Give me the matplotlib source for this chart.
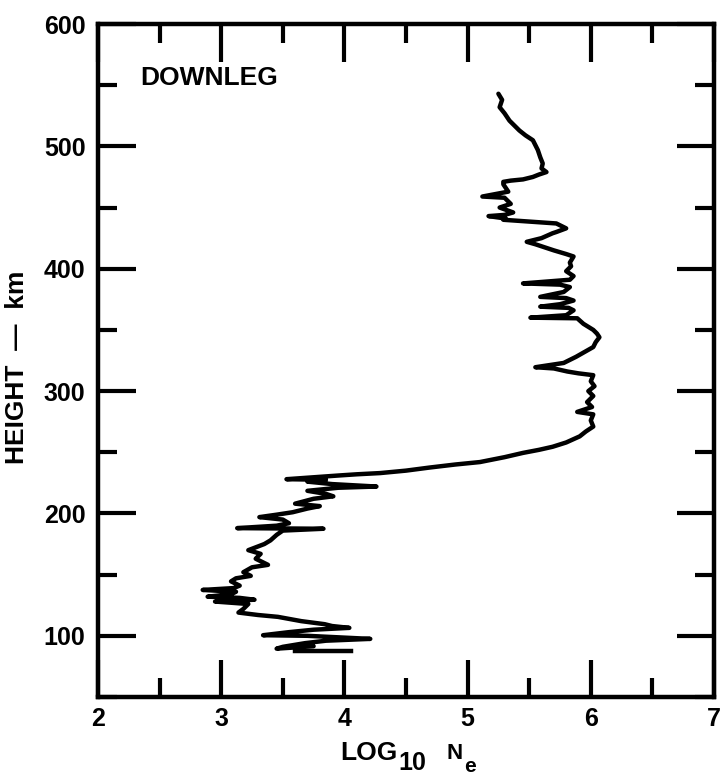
import matplotlib
matplotlib.use('Agg')
import matplotlib.pyplot as plt
from matplotlib.ticker import MultipleLocator

plt.rcParams['font.family'] = ['Liberation Sans', 'DejaVu Sans']
plt.rcParams['font.weight'] = 'bold'

# electron density profile (top -> bottom)
log_ne = [5.25, 5.28, 5.26, 5.30, 5.34, 5.38, 5.42, 5.47, 5.53, 5.55,
          5.57, 5.59, 5.61, 5.60, 5.64, 5.58, 5.53, 5.45, 5.35, 5.29,
          5.29, 5.33, 5.12, 5.30, 5.35, 5.26, 5.37, 5.30, 5.17, 5.31, 5.29,
          5.72, 5.80, 5.72, 5.69, 5.60, 5.48, 5.55, 5.61, 5.70, 5.80, 5.86,
          5.83, 5.84, 5.80, 5.86, 5.83, 5.45, 5.75, 5.83, 5.78, 5.59, 5.80,
          5.86, 5.75, 5.59, 5.82, 5.86, 5.80, 5.51, 5.89, 5.94, 6.02, 6.05,
          6.07, 6.04, 6.02, 5.95, 5.88, 5.78, 5.55, 5.70, 5.81, 5.90, 6.02,
          6.00, 6.03, 5.98, 6.02, 5.97, 6.01, 5.89, 6.02, 6.00, 6.02, 5.96,
          5.91, 5.80, 5.69, 5.58, 5.45, 5.30, 5.10, 4.90, 4.69, 4.50, 4.29,
          4.10, 3.95, 3.53, 3.85, 3.70, 3.90, 4.26, 3.95, 3.70, 3.85, 3.91,
          3.75, 3.60, 3.80, 3.70, 3.58, 3.45, 3.31, 3.50, 3.55, 3.45, 3.13,
          3.83, 3.50, 3.45, 3.40, 3.35, 3.22, 3.32, 3.28, 3.38, 3.25, 3.18,
          3.24, 3.12, 3.08, 3.15, 3.10, 2.85, 3.12, 3.08, 2.89, 3.15, 3.27,
          2.95, 3.22, 3.18, 3.14, 3.30, 3.46, 3.65, 3.84, 3.90, 4.04, 3.75,
          3.55, 3.34, 3.70, 4.21, 3.85, 3.68, 3.50, 3.45, 3.60, 3.75]
height = [543, 538, 532, 527, 521, 517, 513, 509, 505, 501,
          497, 491, 486, 482, 479, 477, 475, 473, 472, 471,
          469, 463, 459, 458, 453, 450, 446, 444, 443, 441, 440,
          437, 433, 430, 429, 425, 422, 420, 418, 415, 412, 410,
          405, 402, 398, 394, 391, 388, 387, 385, 381, 377, 376,
          374, 371, 369, 368, 366, 362, 360, 359.5, 355, 350, 347,
          344, 340, 336, 332, 328, 323, 319.5, 318.5, 316, 314.5, 313,
          308, 304, 300, 296, 291, 287, 283, 281, 276, 271, 267,
          263, 258, 254.5, 252, 249.5, 246, 242, 240, 237.5, 235, 233,
          232, 231, 228, 227.5, 226, 224, 222, 221, 218.5, 216, 214,
          212, 208, 206, 204, 201, 199, 197, 195, 192, 190, 188,
          187.5, 186, 182.5, 178, 175, 170, 167, 163, 158, 156, 152,
          149, 147, 144.5, 141, 139, 137.5, 136, 134, 132, 131, 129.5,
          128, 126, 122, 119, 117, 115.5, 112, 109.5, 108, 106.5, 105,
          103, 100.5, 100, 97.5, 96, 94, 91, 89.5, 90.5, 91.5]

# short detached stroke at the very bottom
tail_ne = [3.60, 4.05]
tail_h = [88, 88]

W, H = 727, 776
fig = plt.figure(figsize=(W / 100, H / 100), dpi=100)
ax = fig.add_axes([98 / W, 1 - 697 / H, 616 / W, 673 / H])

ax.plot(log_ne, height, color='black', lw=3.2, solid_joinstyle='round',
        solid_capstyle='round')
ax.plot(tail_ne, tail_h, color='black', lw=3.2)

ax.set_xlim(2, 7)
ax.set_ylim(50, 600)
ax.xaxis.set_major_locator(MultipleLocator(1))
ax.xaxis.set_minor_locator(MultipleLocator(0.5))
ax.yaxis.set_minor_locator(MultipleLocator(50))
ax.set_yticks([100, 200, 300, 400, 500, 600])

for s in ax.spines.values():
    s.set_linewidth(3.2)

ax.tick_params(which='both', direction='in', top=True, right=True, width=3)
ax.tick_params(which='major', length=27)
ax.tick_params(which='minor', length=14)
ax.tick_params(axis='x', pad=7, labelsize=18)
ax.tick_params(axis='y', pad=9, labelsize=18)
for lab in ax.get_xticklabels() + ax.get_yticklabels():
    lab.set_fontweight('bold')

# x label drawn in pieces: big lowered "10", small "e"
def ftext(x, y, s, size):
    fig.text(x / W, 1 - y / H, s, fontsize=size, fontweight='bold', va='baseline')

ftext(340, 760, 'LOG', 19)
ftext(398, 770, '10', 18)
ftext(446, 759, 'N', 16)
ftext(464, 772, 'e', 15)

ax.set_ylabel('HEIGHT  —  km', fontsize=19, fontweight='bold')
ax.yaxis.set_label_coords(-0.112, 0.49)
ax.text(2.34, 556, 'DOWNLEG', fontsize=19, fontweight='bold', va='center')

fig.savefig('out.png', dpi=100)
